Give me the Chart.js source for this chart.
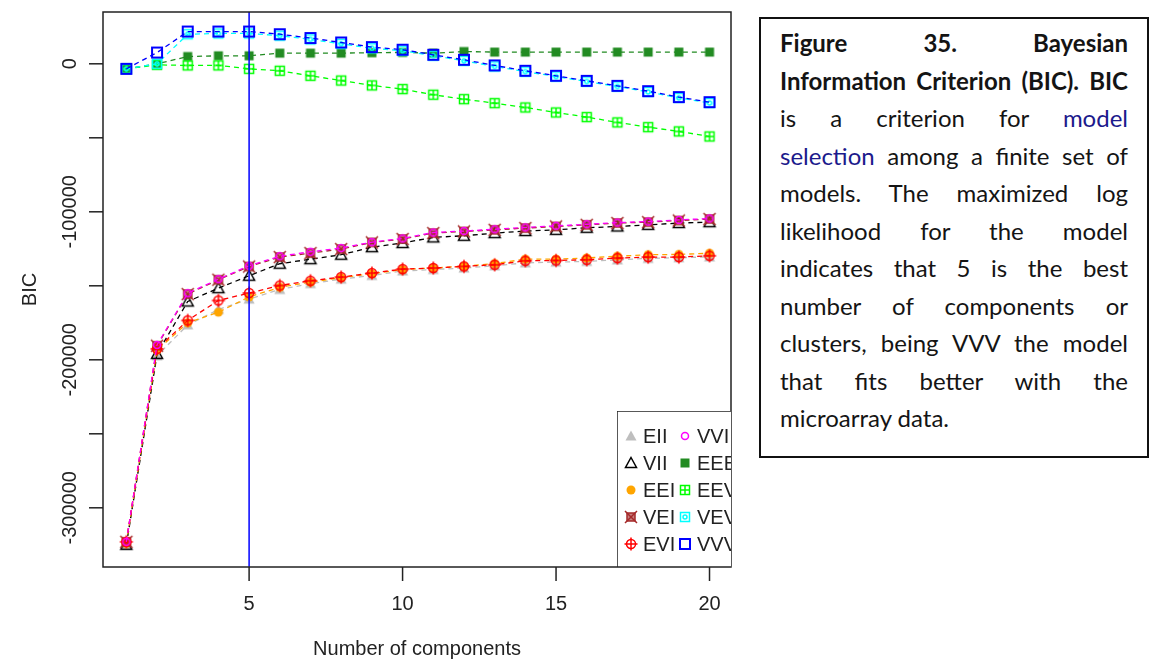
<!DOCTYPE html>
<html>
<head>
<meta charset="utf-8">
<script src="https://cdn.jsdelivr.net/npm/chart.js@4.4.1/dist/chart.umd.min.js"></script>
<style>
  html, body { margin: 0; padding: 0; background: #fff; width: 1153px; height: 659px; overflow: hidden; }
  #plot { position: absolute; left: 0; top: 0; }
  #caption {
    position: absolute; left: 759px; top: 17px;
    width: 348px; height: 417px;
    border: 2px solid #111;
    padding: 5px 19px 15px 19px;
    font-family: Lato, "Open Sans", sans-serif;
    font-size: 24px; line-height: 37.5px; color: #141414;
  }
  #caption .ln { display: block; text-align: justify; text-align-last: justify; }
  #caption .ln.last { text-align: left; text-align-last: left; }
  #caption b { font-weight: 700; }
  #caption .link { color: #1c1a8c; }
</style>
</head>
<body>
<canvas id="plot" width="745" height="659"></canvas>
<div id="caption">
  <span class="ln"><b>Figure 35. Bayesian</b></span>
  <span class="ln"><b>Information Criterion (BIC). BIC</b></span>
  <span class="ln">is a criterion for&nbsp;<span class="link">model</span></span>
  <span class="ln"><span class="link">selection</span> among a finite set of</span>
  <span class="ln">models. The maximized log</span>
  <span class="ln">likelihood for the model</span>
  <span class="ln">indicates that 5 is the best</span>
  <span class="ln">number of components or</span>
  <span class="ln">clusters, being VVV the model</span>
  <span class="ln">that fits better with the</span>
  <span class="ln last">microarray data.</span>
</div>
<script>
// Keep every caption line on a single row by tightening letters where needed
document.querySelectorAll('#caption .ln').forEach(el => {
  let ls = 0;
  while (el.offsetHeight > 40 && ls > -2) {
    ls -= 0.1;
    el.style.letterSpacing = ls.toFixed(2) + 'px';
  }
});

// Number of mixture components
const components = [1, 2, 3, 4, 5, 6, 7, 8, 9, 10, 11, 12, 13, 14, 15, 16, 17, 18, 19, 20];

// BIC per covariance model
const bicEII = [-325000, -197300, -176400, -166000, -159000, -152500, -148500, -145500, -143000, -140000, -139000, -138000, -136500, -134500, -134000, -133500, -132500, -131500, -131000, -130500];
const bicVII = [-325000, -196000, -160600, -151600, -143200, -135100, -132000, -129000, -123900, -121100, -117300, -116200, -114400, -113000, -112200, -110800, -109900, -108800, -107600, -107000];
const bicEEI = [-324000, -193500, -175000, -167800, -157500, -151000, -147500, -144500, -141800, -139000, -138000, -136800, -135000, -132000, -132000, -131200, -130000, -129000, -128800, -128000];
const bicVEI = [-323000, -190500, -155600, -145900, -137000, -130600, -127900, -125200, -120700, -118400, -114400, -113300, -112200, -111000, -109900, -108800, -107600, -107000, -105900, -104900];
const bicEVI = [-323000, -192600, -173400, -159900, -154900, -149800, -146600, -144100, -141400, -138700, -138000, -136900, -135800, -133100, -132900, -132400, -131300, -130600, -130600, -129700];
const bicVVI = [-323000, -190000, -155000, -145500, -136500, -130000, -127000, -124500, -120500, -118000, -114000, -113000, -111800, -110600, -109500, -108400, -107300, -106600, -105500, -104500];
const bicEEE = [-3400, 0, 4900, 5400, 5400, 7200, 7200, 7200, 7500, 7700, 7200, 8300, 7900, 7900, 7900, 7900, 7900, 7900, 7900, 7900];
const bicEEV = [-3400, -700, -1100, -1100, -3400, -4700, -8100, -11300, -14600, -17100, -20900, -23900, -26600, -29500, -32900, -36000, -39600, -42800, -45700, -49100];
const bicVEV = [-3400, 0, 20000, 20500, 20500, 19000, 16500, 13500, 10500, 8800, 5500, 2000, -1800, -5300, -8600, -12000, -15300, -19000, -23000, -26500];
const bicVVV = [-3400, 7600, 21800, 21800, 21800, 20000, 17400, 14400, 11300, 9500, 6100, 2700, -1100, -4700, -8100, -11500, -14900, -18500, -22500, -25900];

const modelNames = ['EII', 'VII', 'EEI', 'VEI', 'EVI', 'VVI', 'EEE', 'EEV', 'VEV', 'VVV'];
const modelValues = [bicEII, bicVII, bicEEI, bicVEI, bicEVI, bicVVI, bicEEE, bicEEV, bicVEV, bicVVV];

// Axis ticks
const xTickValues = [5, 10, 15, 20];
const yTickMarks = [0, -50000, -100000, -150000, -200000, -250000, -300000];
const yTickLabels = [0, -100000, -200000, -300000];
const bestComponents = 5;

// Look of each model: colour and plotting symbol
const modelColors = ['#bebebe', '#000000', '#ffa500', '#a52a2a', '#ff0000', '#ff00ff', '#228b22', '#00ff00', '#00ffff', '#0000ff'];
const modelSymbols = ['triFill', 'triOpen', 'dot', 'boxX', 'circPlus', 'ring', 'square', 'boxPlus', 'boxRing', 'box'];

function makeSymbol(kind, color) {
  const c = document.createElement('canvas');
  c.width = 16; c.height = 16;
  const g = c.getContext('2d');
  g.strokeStyle = color; g.fillStyle = color; g.lineWidth = 1.5;
  const m = 8;
  switch (kind) {
    case 'triFill':
      g.beginPath(); g.moveTo(m, 2.5); g.lineTo(m + 5.5, 12.5); g.lineTo(m - 5.5, 12.5); g.closePath(); g.fill(); break;
    case 'triOpen':
      g.beginPath(); g.moveTo(m, 2.5); g.lineTo(m + 5.5, 12.5); g.lineTo(m - 5.5, 12.5); g.closePath(); g.stroke(); break;
    case 'dot':
      g.beginPath(); g.arc(m, m, 4.5, 0, Math.PI * 2); g.fill(); break;
    case 'boxX':
      g.strokeRect(m - 4, m - 4, 8, 8);
      g.globalAlpha = 0.6; g.fillRect(m - 4, m - 4, 8, 8); g.globalAlpha = 1;
      g.beginPath(); g.moveTo(m - 6, m - 6); g.lineTo(m + 6, m + 6); g.moveTo(m + 6, m - 6); g.lineTo(m - 6, m + 6); g.stroke(); break;
    case 'circPlus':
      g.beginPath(); g.arc(m, m, 4.5, 0, Math.PI * 2); g.stroke();
      g.beginPath(); g.moveTo(m - 6.5, m); g.lineTo(m + 6.5, m); g.moveTo(m, m - 6.5); g.lineTo(m, m + 6.5); g.stroke(); break;
    case 'ring':
      g.beginPath(); g.arc(m, m, 3.5, 0, Math.PI * 2); g.stroke(); break;
    case 'square':
      g.fillRect(m - 4.5, m - 4.5, 9, 9); break;
    case 'boxPlus':
      g.strokeRect(m - 4.5, m - 4.5, 9, 9);
      g.beginPath(); g.moveTo(m - 4.5, m); g.lineTo(m + 4.5, m); g.moveTo(m, m - 4.5); g.lineTo(m, m + 4.5); g.stroke(); break;
    case 'boxRing':
      g.strokeRect(m - 4.5, m - 4.5, 9, 9);
      g.beginPath(); g.arc(m, m, 2, 0, Math.PI * 2); g.stroke(); break;
    case 'box':
      g.lineWidth = 2; g.strokeRect(m - 5, m - 5, 10, 10); break;
  }
  return c;
}

const symbols = modelSymbols.map((k, i) => makeSymbol(k, modelColors[i]));

const datasets = modelNames.map((name, i) => ({
  label: name,
  data: modelValues[i].map((v, j) => ({ x: components[j], y: v })),
  borderColor: modelColors[i],
  backgroundColor: modelColors[i],
  borderWidth: 1.3,
  borderDash: [5, 4],
  pointStyle: symbols[i],
  pointRadius: 5,
  tension: 0,
  order: modelNames.length - i
}));

const AXIS_FONT = '20px "Liberation Sans", Arial, sans-serif';
const INK = '#222';

// Base-graphics style frame, ticks, labels and the marker at the chosen component count
const frameAndAxes = {
  id: 'frameAndAxes',
  afterDatasetsDraw(chart) {
    const { ctx, chartArea: a, scales: { x } } = chart;
    const px = x.getPixelForValue(bestComponents);
    ctx.save();
    ctx.strokeStyle = '#0000ff';
    ctx.lineWidth = 1.5;
    ctx.beginPath(); ctx.moveTo(px, a.top); ctx.lineTo(px, a.bottom); ctx.stroke();
    ctx.restore();
  },
  afterDraw(chart) {
    const { ctx, chartArea: a, scales: { x, y } } = chart;
    ctx.save();
    ctx.strokeStyle = INK; ctx.lineWidth = 1.5;
    ctx.strokeRect(a.left, a.top, a.right - a.left, a.bottom - a.top);

    ctx.fillStyle = INK;
    ctx.font = AXIS_FONT;
    ctx.textAlign = 'center'; ctx.textBaseline = 'middle';
    xTickValues.forEach(v => {
      const p = x.getPixelForValue(v);
      ctx.beginPath(); ctx.moveTo(p, a.bottom); ctx.lineTo(p, a.bottom + 14); ctx.stroke();
      ctx.fillText(String(v), p, a.bottom + 37);
    });
    ctx.fillText('Number of components', (a.left + a.right) / 2, a.bottom + 82);

    yTickMarks.forEach(v => {
      const p = y.getPixelForValue(v);
      ctx.beginPath(); ctx.moveTo(a.left - 14, p); ctx.lineTo(a.left, p); ctx.stroke();
    });
    yTickLabels.forEach(v => {
      const p = y.getPixelForValue(v);
      ctx.save(); ctx.translate(a.left - 33, p); ctx.rotate(-Math.PI / 2);
      ctx.fillText(String(v), 0, 0); ctx.restore();
    });
    ctx.save(); ctx.translate(a.left - 73, (a.top + a.bottom) / 2); ctx.rotate(-Math.PI / 2);
    ctx.fillText('BIC', 0, 0); ctx.restore();

    // legend in the bottom-right corner, clipped by the frame
    const lw = 114, lh = 156;
    const lx = a.right - lw, ly = a.bottom - lh;
    ctx.beginPath(); ctx.rect(lx, ly, lw, lh); ctx.clip();
    ctx.fillStyle = '#fff'; ctx.fillRect(lx, ly, lw, lh);
    ctx.strokeStyle = INK; ctx.lineWidth = 1.5;
    ctx.strokeRect(lx, ly, lw + 2, lh);
    ctx.fillStyle = INK; ctx.textAlign = 'left';
    const rowGap = 27, rows = 5;
    modelNames.forEach((name, i) => {
      const col = Math.floor(i / rows), row = i % rows;
      const sx = lx + 14 + col * 54;
      const sy = ly + 25 + row * rowGap;
      const s = symbols[i];
      ctx.drawImage(s, Math.round(sx - s.width / 2), Math.round(sy - s.height / 2));
      ctx.fillText(name, sx + 12, sy + 1);
    });
    ctx.restore();
  }
};

new Chart(document.getElementById('plot'), {
  type: 'line',
  data: { datasets },
  options: {
    responsive: false,
    animation: false,
    events: [],
    layout: { padding: { top: 12, right: 14, bottom: 0, left: 0 } },
    plugins: { legend: { display: false }, tooltip: { enabled: false } },
    scales: {
      x: {
        type: 'linear', min: 0.24, max: 20.7,
        grid: { display: false }, border: { display: false }, ticks: { display: false },
        afterFit(s) { s.height = 92; }
      },
      y: {
        type: 'linear', min: -340000, max: 35000,
        grid: { display: false }, border: { display: false }, ticks: { display: false },
        afterFit(s) { s.width = 103; }
      }
    }
  },
  plugins: [frameAndAxes]
});
</script>
</body>
</html>
